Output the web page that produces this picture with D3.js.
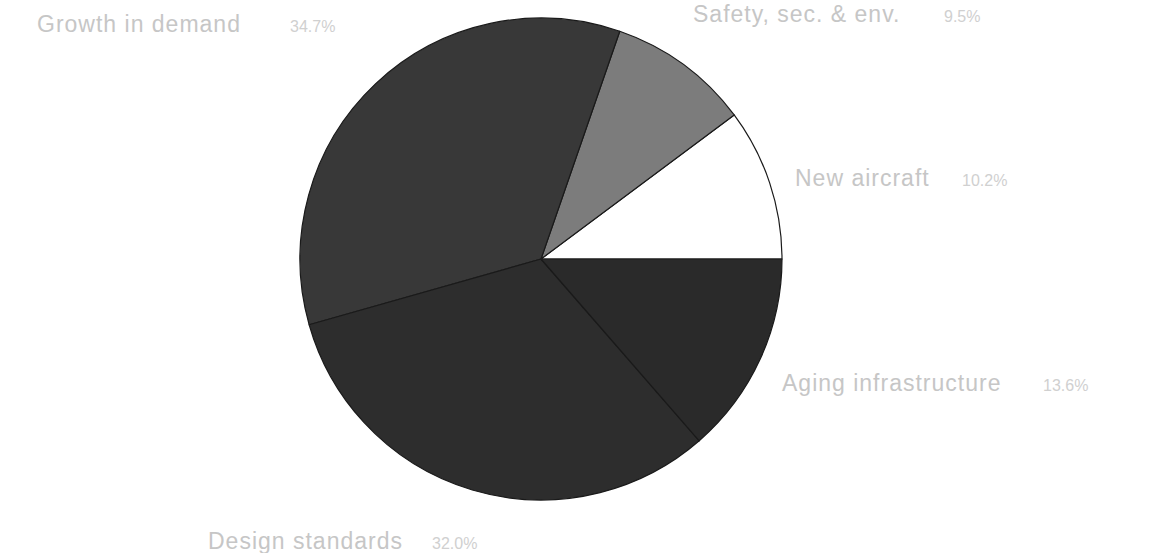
<!DOCTYPE html>
<html>
<head>
<meta charset="utf-8">
<script src="https://cdn.jsdelivr.net/npm/d3@7"></script>
<style>
  html, body { margin: 0; padding: 0; background: #fff; }
  svg { display: block; }
  .name { font-family: "Liberation Sans", Arial, sans-serif; fill: #c6c6c6; }
  .pct  { font-family: "Liberation Sans", Arial, sans-serif; fill: #d0d0d0; }
</style>
</head>
<body>
<svg id="chart" width="1154" height="553"></svg>
<script>
// Slice categories, in drawing order (counter-clockwise from 3 o'clock)
const categories = ["New aircraft", "Safety, sec. & env.", "Growth in demand", "Design standards", "Aging infrastructure"];
// Share of each category, percent
const shares = [10.2, 9.5, 34.7, 32.0, 13.6];
// Text shown next to each slice
const shareLabels = ["10.2%", "9.5%", "34.7%", "32.0%", "13.6%"];
const sliceFills = ["#ffffff", "#7c7c7c", "#383838", "#2d2d2d", "#2a2a2a"];

const W = 1154, H = 553;
const cx = 541, cy = 259, radius = 241;

const svg = d3.select("#chart");

const data = categories.map((c, i) => ({ name: c, value: shares[i], label: shareLabels[i], fill: sliceFills[i] }));

// Counter-clockwise starting at 3 o'clock
const pie = d3.pie()
  .sort(null)
  .value(d => d.value)
  .startAngle(Math.PI / 2)
  .endAngle(Math.PI / 2 - 2 * Math.PI);

const arc = d3.arc().innerRadius(0).outerRadius(radius);

const g = svg.append("g").attr("transform", `translate(${cx},${cy})`);

g.selectAll("path.slice")
  .data(pie(data))
  .join("path")
  .attr("class", "slice")
  .attr("d", arc)
  .attr("fill", d => d.data.fill)
  .attr("stroke", "#1a1a1a")
  .attr("stroke-width", 1.2)
  .attr("stroke-linejoin", "round");

// Label placement: name start x, baseline y, and x of the percent text
const labelLayout = {
  "Growth in demand":     { x: 37,  y: 32,  px: 290 },
  "Safety, sec. & env.":  { x: 693, y: 22,  px: 944 },
  "New aircraft":         { x: 795, y: 186, px: 962 },
  "Aging infrastructure": { x: 782, y: 391, px: 1043 },
  "Design standards":     { x: 208, y: 549, px: 432 }
};

const labels = svg.append("g");
data.forEach(d => {
  const p = labelLayout[d.name];
  labels.append("text")
    .attr("class", "name")
    .attr("x", p.x).attr("y", p.y)
    .attr("font-size", 23)
    .attr("letter-spacing", 1)
    .text(d.name);
  labels.append("text")
    .attr("class", "pct")
    .attr("x", p.px).attr("y", p.y)
    .attr("font-size", 16)
    .text(d.label);
});
</script>
</body>
</html>
